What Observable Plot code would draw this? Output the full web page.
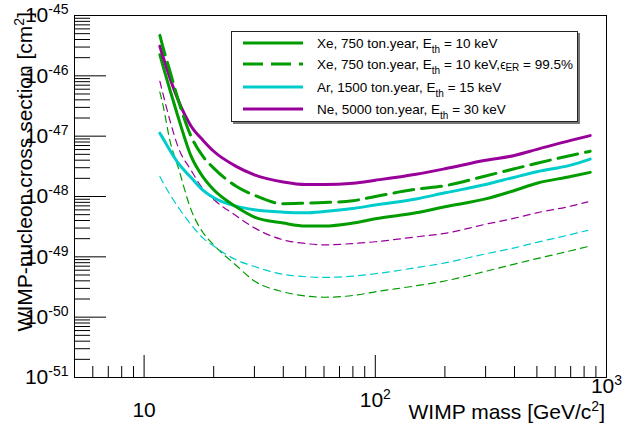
<!DOCTYPE html>
<html><head><meta charset="utf-8">
<script src="https://cdn.jsdelivr.net/npm/d3@7"></script>
<script src="https://cdn.jsdelivr.net/npm/@observablehq/plot@0.6"></script>
<style>
html,body{margin:0;padding:0;background:#fff;}
#chart{width:623px;height:424px;overflow:hidden;}
svg{font-family:"Liberation Sans",Arial,Helvetica,sans-serif;}
</style></head><body><div id="chart"></div>
<script>
// WIMP masses [GeV/c^2]
const massThick = [11.7, 12, 13, 14, 16, 18, 20, 25, 30, 40, 50, 60, 80, 100, 150, 200, 300, 400, 500, 700, 850];
const massThin  = [11.7, 12, 13, 14, 16, 18, 20, 25, 30, 40, 50, 60, 80, 100, 150, 200, 300, 400, 500, 700, 830];
// cross sections [cm^2]
const xeSolid = [2.24e-46, 1.58e-46, 5.50e-47, 2.14e-47, 4.57e-48, 2.09e-48, 1.29e-48, 6.76e-49, 4.57e-49, 3.63e-49, 3.24e-49, 3.24e-49, 3.63e-49, 4.27e-49, 5.37e-49, 6.76e-49, 9.12e-49, 1.26e-48, 1.66e-48, 2.14e-48, 2.51e-48];
const xeER    = [4.68e-46, 3.24e-46, 1.12e-46, 4.17e-47, 9.77e-48, 4.57e-48, 2.95e-48, 1.48e-48, 1.05e-48, 7.59e-49, 7.76e-49, 7.94e-49, 8.51e-49, 1.00e-48, 1.32e-48, 1.51e-48, 2.19e-48, 2.88e-48, 3.55e-48, 4.79e-48, 5.62e-48];
const arSolid = [1.12e-47, 9.55e-48, 5.62e-48, 3.63e-48, 2.04e-48, 1.26e-48, 9.55e-49, 6.92e-49, 6.03e-49, 5.50e-49, 5.37e-49, 5.62e-49, 6.31e-49, 7.24e-49, 9.12e-49, 1.15e-48, 1.58e-48, 2.09e-48, 2.57e-48, 3.31e-48, 4.17e-48];
const neSolid = [3.09e-46, 2.24e-46, 8.71e-47, 4.07e-47, 1.45e-47, 8.51e-48, 5.62e-48, 3.16e-48, 2.29e-48, 1.74e-48, 1.58e-48, 1.58e-48, 1.66e-48, 1.86e-48, 2.34e-48, 2.88e-48, 3.98e-48, 4.79e-48, 6.03e-48, 8.51e-48, 1.02e-47];
const neThin  = [8.13e-47, 5.50e-47, 1.70e-47, 6.76e-48, 2.69e-48, 1.32e-48, 8.91e-49, 4.79e-49, 3.02e-49, 1.91e-49, 1.66e-49, 1.58e-49, 1.66e-49, 1.78e-49, 2.14e-49, 2.45e-49, 3.47e-49, 4.37e-49, 5.37e-49, 6.92e-49, 8.13e-49];
const xeThin  = [5.37e-47, 3.63e-47, 7.76e-48, 3.16e-48, 5.89e-49, 2.51e-49, 1.58e-49, 7.24e-50, 3.98e-50, 2.63e-50, 2.24e-50, 2.14e-50, 2.29e-50, 2.63e-50, 3.31e-50, 3.98e-50, 5.75e-50, 7.59e-50, 9.33e-50, 1.26e-49, 1.48e-49];
const arThin  = [2.14e-48, 1.78e-48, 1.05e-48, 6.76e-49, 3.39e-49, 2.04e-49, 1.51e-49, 8.91e-50, 6.92e-50, 5.13e-50, 4.68e-50, 4.57e-50, 4.79e-50, 5.25e-50, 6.61e-50, 7.94e-50, 1.12e-49, 1.41e-49, 1.74e-49, 2.34e-49, 2.75e-49];

// ticks
const yMajor = [1e-51, 1e-50, 1e-49, 1e-48, 1e-47, 1e-46, 1e-45];
const yDecades = [1e-51, 1e-50, 1e-49, 1e-48, 1e-47, 1e-46];
const minorFactors = [2, 3, 4, 5, 6, 7, 8, 9];
const xMajor = [10, 100, 1000];
const xMinor = [6, 7, 8, 9, 20, 30, 40, 50, 60, 70, 80, 90, 200, 300, 400, 500, 600, 700, 800, 900];
const xTickLabels = ["10", "10^2", "10^3"];

// legend
const legendLabels = [
  [["Xe, 750 ton.year, E", 0], ["th", 1], [" = 10 keV", 0]],
  [["Xe, 750 ton.year, E", 0], ["th", 1], [" = 10 keV,", 0], ["\u03F5", 2], ["ER", 3], [" = 99.5%", 0]],
  [["Ar, 1500 ton.year, E", 0], ["th", 1], [" = 15 keV", 0]],
  [["Ne, 5000 ton.year, E", 0], ["th", 1], [" = 30 keV", 0]]
];

const green = "#009c00", cyan = "#00cccc", purple = "#990099";
const yMinor = yDecades.flatMap(d => minorFactors.map(k => k * d));
const rows = (ms, vs) => ms.map((m, i) => ({m, s: vs[i]}));

const thin = {x: "m", y: "s", strokeWidth: 1.2, strokeDasharray: "7,5", curve: "monotone-x"};
const thick = {x: "m", y: "s", strokeWidth: 3, curve: "monotone-x"};

const plot = Plot.plot({
  width: 623, height: 424,
  marginLeft: 74, marginRight: 17, marginTop: 15, marginBottom: 47,
  style: {fontFamily: '"Liberation Sans", Arial, Helvetica, sans-serif', background: "white", overflow: "visible"},
  x: {type: "log", domain: [5, 1000]},
  y: {type: "log", domain: [1e-51, 1e-45]},
  marks: [
    Plot.line(rows(massThin, xeThin), {...thin, stroke: green}),
    Plot.line(rows(massThin, arThin), {...thin, stroke: cyan}),
    Plot.line(rows(massThin, neThin), {...thin, stroke: purple}),
    Plot.line(rows(massThick, arSolid), {...thick, stroke: cyan}),
    Plot.line(rows(massThick, xeSolid), {...thick, stroke: green}),
    Plot.line(rows(massThick, neSolid), {...thick, stroke: purple}),
    Plot.line(rows(massThick, xeER), {...thick, stroke: green, strokeDasharray: "20,8"}),
    Plot.ruleY(yMajor, {y: d => d, x1: 5, x2: 5, insetRight: -32, stroke: "black", strokeWidth: 1}),
    Plot.ruleY(yMinor, {y: d => d, x1: 5, x2: 5, insetRight: -16, stroke: "black", strokeWidth: 1}),
    Plot.ruleX(xMajor, {x: d => d, y1: 1e-51, y2: 1e-51, insetTop: -22, stroke: "black", strokeWidth: 1}),
    Plot.ruleX(xMinor, {x: d => d, y1: 1e-51, y2: 1e-51, insetTop: -11, stroke: "black", strokeWidth: 1}),
    Plot.frame({stroke: "black", strokeWidth: 1}),
    Plot.axisY({ticks: yMajor, tickSize: 0, tickPadding: 6, fontSize: 21, label: null,
      tickFormat: d => "10^" + Math.round(Math.log10(d))}),
    Plot.axisX({ticks: xMajor, tickSize: 0, tickPadding: 0, fontSize: 21, label: null,
      tickFormat: d => xTickLabels[xMajor.indexOf(d)]})
  ]
});
document.getElementById("chart").appendChild(plot);
const svg = d3.select(plot);

// superscripts on tick labels
function supify(sel, supSize, rise) {
  sel.each(function () {
    const t = d3.select(this);
    const txt = this.textContent;
    const p = txt.indexOf("^");
    if (p < 0) return;
    t.text(null);
    t.append("tspan").text(txt.slice(0, p));
    t.append("tspan").attr("font-size", supSize).attr("dy", -rise).text(txt.slice(p + 1));
  });
}
supify(svg.selectAll('g[aria-label="y-axis tick label"] text'), 14, 8);
supify(svg.selectAll('g[aria-label="x-axis tick label"] text'), 14, 8);
// baseline of each x tick label, measured below the frame's bottom edge
const xLabelBaseline = [39, 29, 15];
svg.selectAll('g[aria-label="x-axis tick label"] text').each(function (d, i) {
  d3.select(this).attr("y", xLabelBaseline[i]);
});

// axis titles
const xt = svg.append("text").attr("x", 605).attr("y", 419).attr("text-anchor", "end")
  .attr("font-size", 21).attr("fill", "black");
xt.append("tspan").text("WIMP mass [GeV/c");
xt.append("tspan").attr("font-size", 14).attr("dy", -8).text("2");
xt.append("tspan").attr("dy", 8).text("]");

const yt = svg.append("text").attr("transform", "translate(32,12) rotate(-90)").attr("text-anchor", "end")
  .attr("font-size", 21).attr("fill", "black");
yt.append("tspan").text("WIMP-nucleon cross section [cm");
yt.append("tspan").attr("font-size", 14).attr("dy", -8).text("2");
yt.append("tspan").attr("dy", 8).text("]");

// legend
const lg = svg.append("g").attr("text-anchor", "start");
lg.append("rect").attr("x", 233).attr("y", 33).attr("width", 347).attr("height", 91).attr("fill", "#777");
lg.append("rect").attr("x", 231.5).attr("y", 31.5).attr("width", 346).attr("height", 90)
  .attr("fill", "white").attr("stroke", "#222").attr("stroke-width", 1);
const rowY = [43, 64, 87, 109];
const styles = [
  {stroke: green, dash: null},
  {stroke: green, dash: "20,8"},
  {stroke: cyan, dash: null},
  {stroke: purple, dash: null}
];
legendLabels.forEach((parts, i) => {
  const y = rowY[i];
  lg.append("line").attr("x1", 243).attr("x2", 303).attr("y1", y).attr("y2", y)
    .attr("stroke", styles[i].stroke).attr("stroke-width", 3)
    .attr("stroke-dasharray", styles[i].dash);
  const t = lg.append("text").attr("x", 317).attr("y", y + 5).attr("font-size", 13.5)
    .attr("text-anchor", "start").attr("fill", "black");
  let shift = 0;
  parts.forEach(([s, kind]) => {
    const ts = t.append("tspan").text(s);
    let target = 0, size = 13.5;
    if (kind === 1) { target = 5; size = 10; }
    if (kind === 2) { target = 0; size = 12; }
    if (kind === 3) { target = 2; size = 10; }
    ts.attr("font-size", size).attr("dy", target - shift);
    shift = target;
  });
});
</script>
</body></html>
